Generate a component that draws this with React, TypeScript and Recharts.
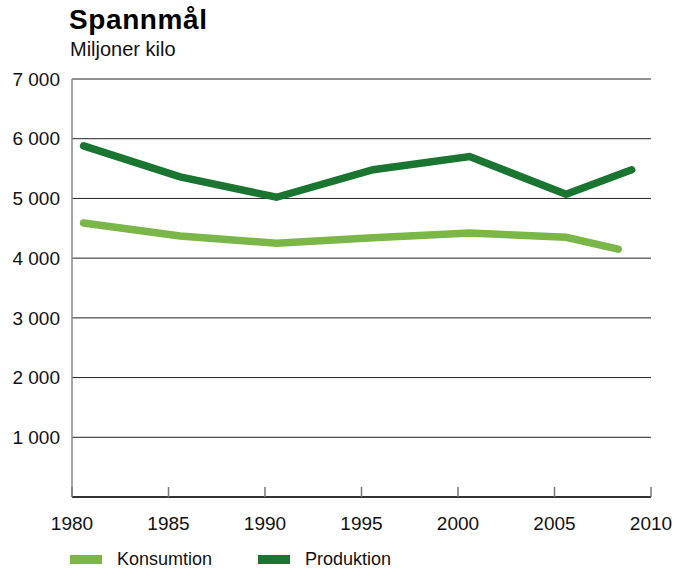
import { LineChart, Line, XAxis, YAxis, CartesianGrid } from 'recharts';

// x positions sit a bit after each year mark in the original
const produktionYears = [1980.6, 1985.6, 1990.6, 1995.6, 2000.6, 2005.6, 2009.0];
const produktionValues = [5880, 5360, 5020, 5480, 5700, 5070, 5480];

const konsumtionYears = [1980.6, 1985.6, 1990.6, 1995.6, 2000.6, 2005.6, 2008.3];
const konsumtionValues = [4590, 4370, 4250, 4340, 4420, 4350, 4150];

const xTicks = [1980, 1985, 1990, 1995, 2000, 2005, 2010];
const yTicks = [1000, 2000, 3000, 4000, 5000, 6000, 7000];

const COLORS = {
    konsumtion: '#7ab648',
    produktion: '#1a7530',
};

const FONT = '"Liberation Sans", Arial, sans-serif';

const produktionData = produktionYears.map((year, i) => ({ year, value: produktionValues[i] }));
const konsumtionData = konsumtionYears.map((year, i) => ({ year, value: konsumtionValues[i] }));

const formatThousands = (v: number) => {
    const s = String(v);
    return s.length > 3 ? s.slice(0, -3) + ' ' + s.slice(-3) : s;
};

const XTick = (props: any) => {
    const { x, y, payload } = props;
    return (
        <g>
            <line x1={x} x2={x} y1={y - 10} y2={y} stroke="#777" strokeWidth={1.5} />
            <text x={x} y={y + 33} textAnchor="middle" fontSize={19} fill="#111" fontFamily={FONT}>
                {payload.value}
            </text>
        </g>
    );
};

export default function App() {
    return (
        <div style={{ position: 'absolute', left: 0, top: 0, width: 677, height: 571, fontFamily: FONT, background: '#fff' }}>
            <div style={{ position: 'absolute', left: 69, top: 4, fontSize: 28, fontWeight: 'bold', color: '#000', letterSpacing: 0.6 }}>
                Spannmål
            </div>
            <div style={{ position: 'absolute', left: 70, top: 38, fontSize: 20, color: '#111' }}>
                Miljoner kilo
            </div>

            <LineChart
                width={677}
                height={571}
                margin={{ top: 79, right: 26, bottom: 0, left: 0 }}
                style={{ position: 'absolute', left: 0, top: 0 }}
            >
                <CartesianGrid vertical={false} stroke="#222" strokeWidth={1} />
                <XAxis
                    dataKey="year"
                    type="number"
                    domain={[1980, 2010]}
                    ticks={xTicks}
                    allowDuplicatedCategory={false}
                    height={74}
                    tickSize={0}
                    tickMargin={0}
                    tickLine={false}
                    axisLine={{ stroke: '#333', strokeWidth: 2 }}
                    tick={<XTick />}
                    interval={0}
                />
                <YAxis
                    type="number"
                    domain={[0, 7000]}
                    ticks={yTicks}
                    width={72}
                    tickSize={0}
                    tickMargin={12}
                    tickLine={false}
                    axisLine={{ stroke: '#888', strokeWidth: 1.5 }}
                    tickFormatter={formatThousands}
                    tick={{ fontSize: 19, fill: '#111', fontFamily: FONT }}
                    interval={0}
                />
                <Line
                    data={konsumtionData}
                    dataKey="value"
                    type="linear"
                    stroke={COLORS.konsumtion}
                    strokeWidth={7.5}
                    strokeLinecap="round"
                    dot={false}
                    activeDot={false}
                    isAnimationActive={false}
                />
                <Line
                    data={produktionData}
                    dataKey="value"
                    type="linear"
                    stroke={COLORS.produktion}
                    strokeWidth={7.5}
                    strokeLinecap="round"
                    dot={false}
                    activeDot={false}
                    isAnimationActive={false}
                />
            </LineChart>

            <div style={{ position: 'absolute', left: 70, top: 549, display: 'flex', alignItems: 'center', fontSize: 18, color: '#111' }}>
                <span style={{ display: 'inline-block', width: 32, height: 9, background: COLORS.konsumtion }} />
                <span style={{ marginLeft: 15, width: 141 }}>Konsumtion</span>
                <span style={{ display: 'inline-block', width: 32, height: 9, background: COLORS.produktion }} />
                <span style={{ marginLeft: 15 }}>Produktion</span>
            </div>
        </div>
    );
}
